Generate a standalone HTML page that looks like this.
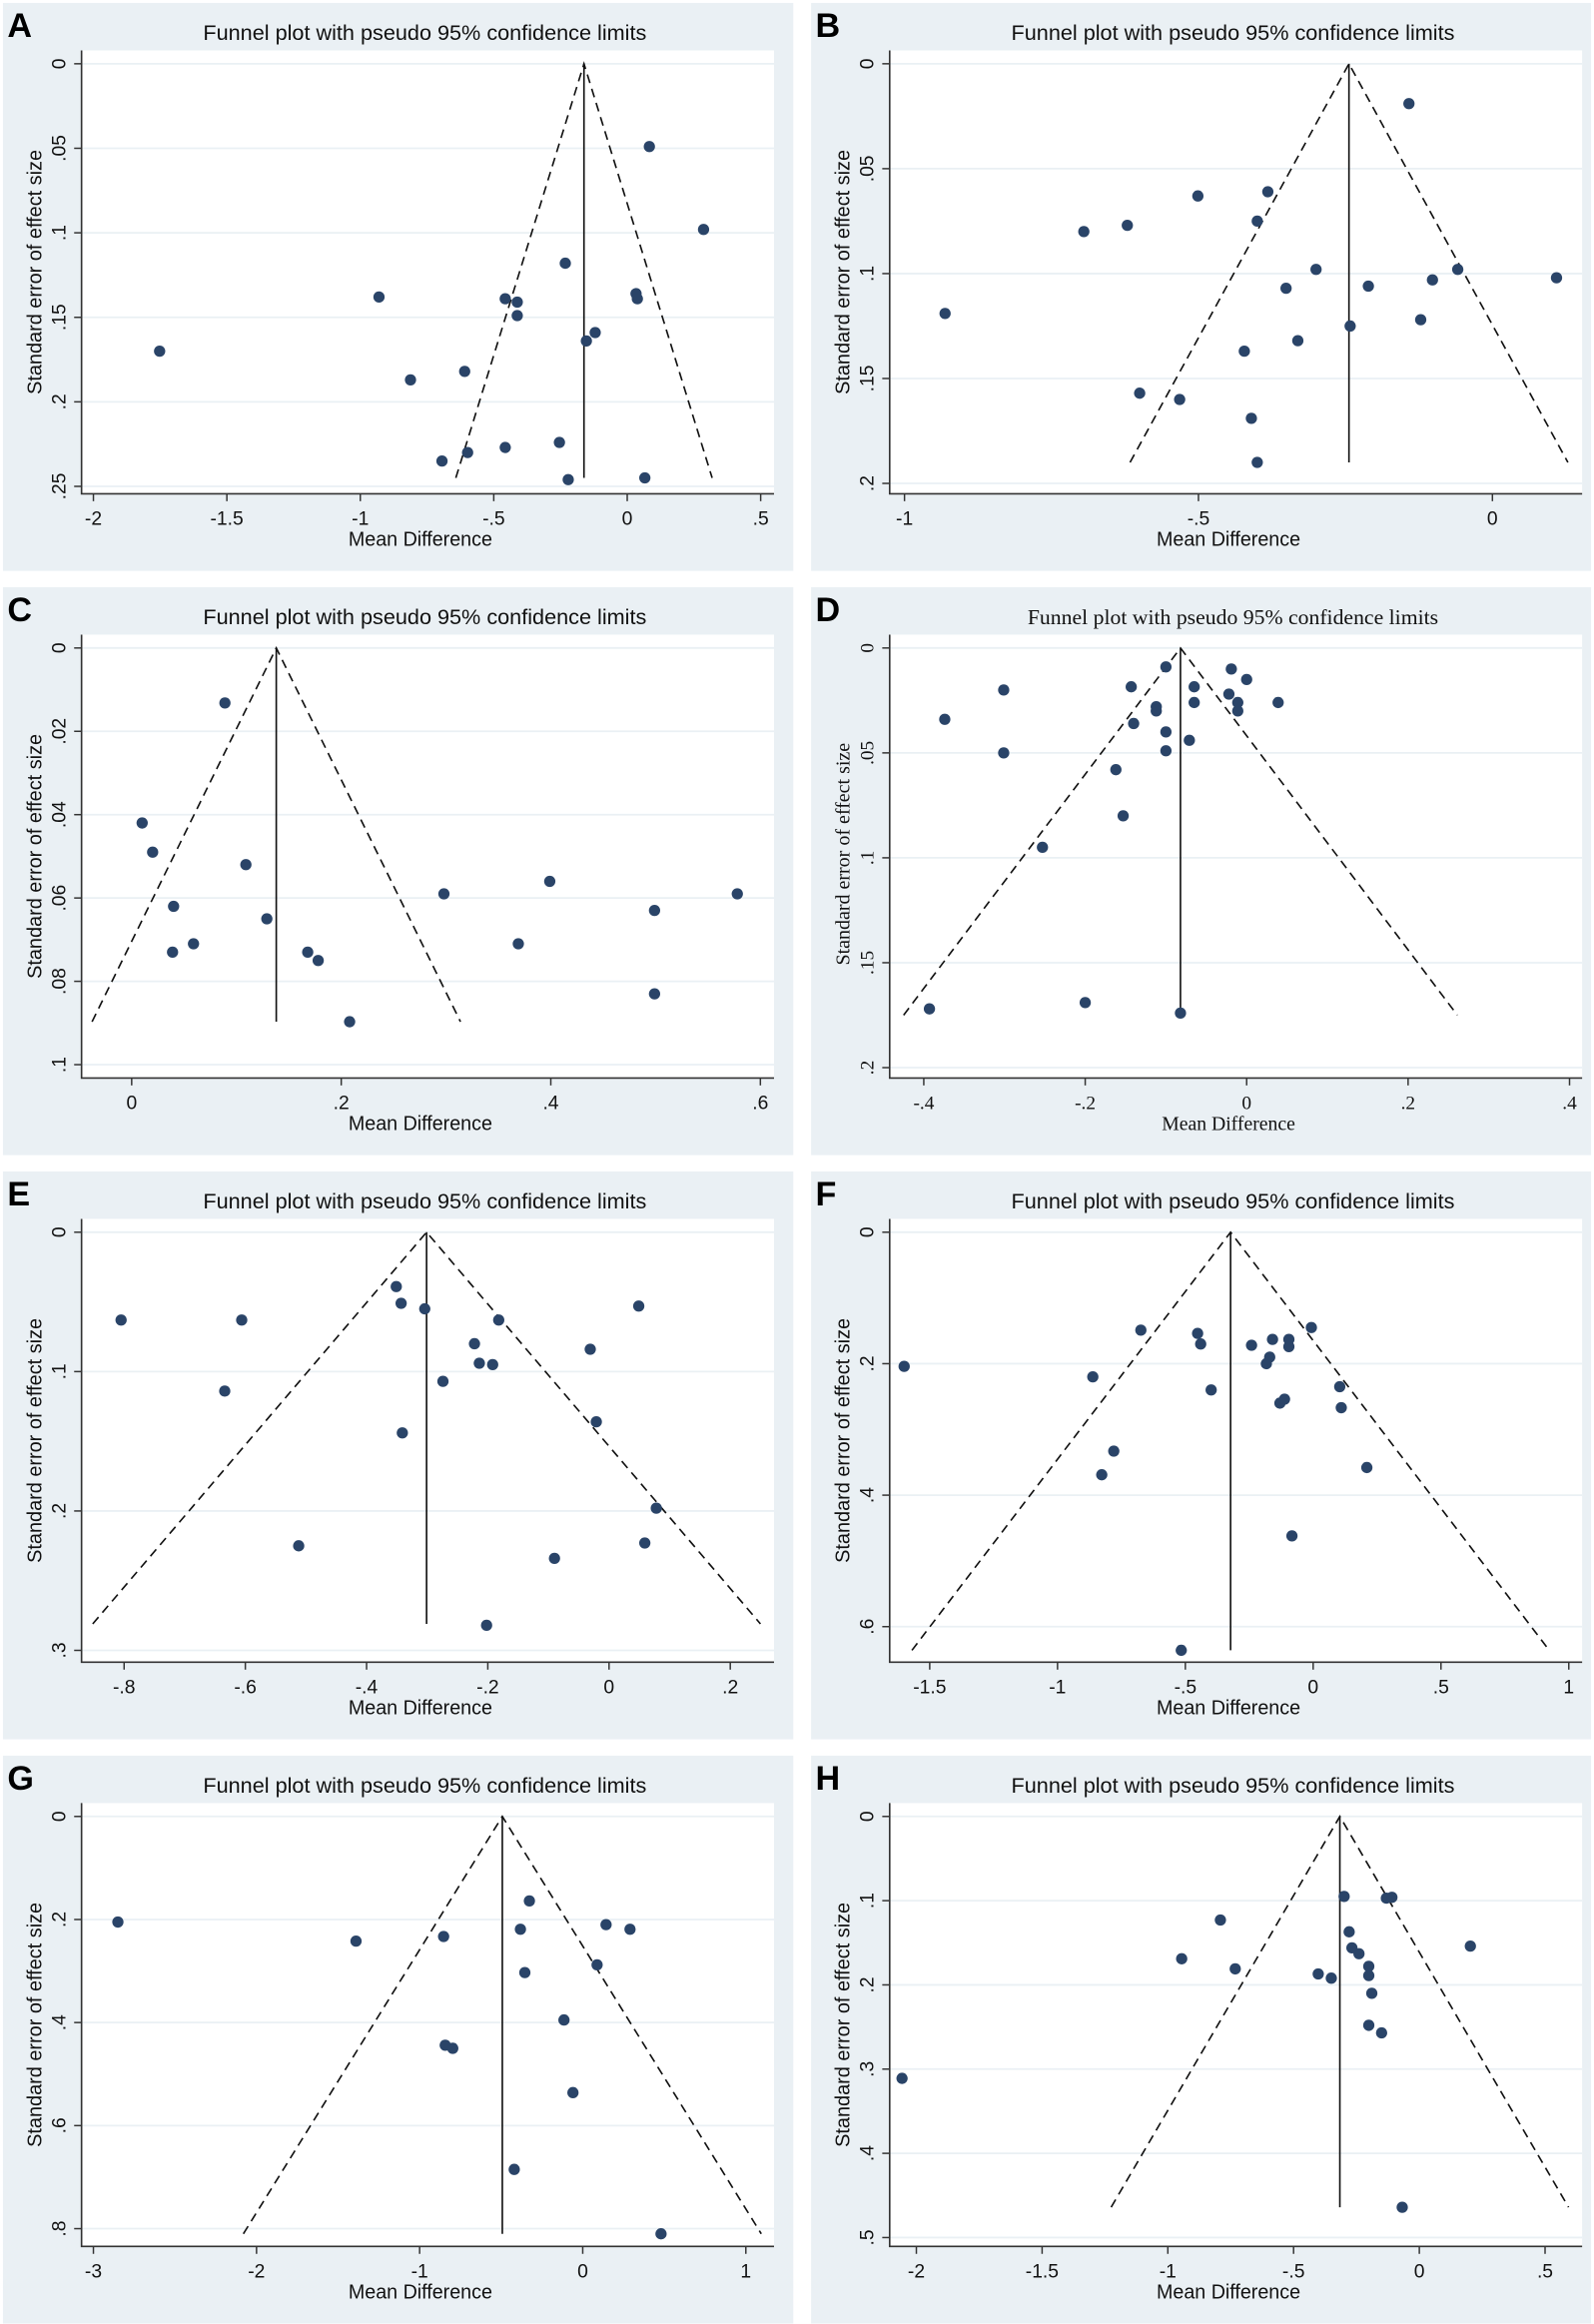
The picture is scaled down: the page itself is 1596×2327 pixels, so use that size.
<!DOCTYPE html>
<html><head><meta charset="utf-8"><style>
html,body{margin:0;padding:0;background:#fff;}
svg{display:block;}
</style></head><body>
<svg id="fig" xmlns="http://www.w3.org/2000/svg" width="1596" height="2327" viewBox="0 0 1075 1567.3" preserveAspectRatio="none"></svg>
<script>
// ---- data arrays (top level) ----
const aX=[0.083,0.286,-0.232,-0.93,-0.457,-0.412,-0.412,0.033,0.038,-0.12,-0.153,-1.752,-0.812,-0.609,-0.694,-0.598,-0.457,-0.254,-0.221,0.066];
const aY=[0.049,0.098,0.118,0.138,0.139,0.141,0.149,0.136,0.139,0.159,0.164,0.170,0.187,0.182,0.235,0.230,0.227,0.224,0.246,0.245];
const bX=[-0.142,-0.501,-0.382,-0.695,-0.621,-0.4,-0.931,-0.3,-0.351,-0.211,-0.102,-0.059,0.109,-0.242,-0.122,-0.331,-0.422,-0.6,-0.532,-0.41,-0.4];
const bY=[0.019,0.063,0.061,0.080,0.077,0.075,0.119,0.098,0.107,0.106,0.103,0.098,0.102,0.125,0.122,0.132,0.137,0.157,0.160,0.169,0.190];
const cX=[0.089,0.01,0.02,0.109,0.04,0.298,0.399,0.499,0.578,0.129,0.039,0.059,0.369,0.168,0.178,0.499,0.208];
const cY=[0.0132,0.042,0.049,0.052,0.062,0.059,0.056,0.063,0.059,0.065,0.073,0.071,0.071,0.073,0.075,0.083,0.0897];
const dX=[-0.374,-0.301,-0.301,-0.1,-0.143,-0.112,-0.112,-0.14,-0.1,-0.1,-0.162,-0.153,-0.253,-0.065,-0.065,-0.071,-0.019,0.0,-0.022,-0.011,-0.011,0.039,-0.393,-0.2,-0.082];
const dY=[0.034,0.020,0.050,0.009,0.0185,0.028,0.030,0.036,0.040,0.049,0.058,0.080,0.095,0.0185,0.026,0.044,0.010,0.015,0.022,0.026,0.030,0.026,0.172,0.169,0.174];
const eX=[-0.805,-0.606,-0.634,-0.351,-0.343,-0.304,-0.182,-0.222,-0.214,-0.192,-0.274,-0.031,0.049,-0.341,-0.021,0.078,-0.512,-0.09,0.059,-0.202];
const eY=[0.063,0.063,0.114,0.039,0.051,0.055,0.063,0.080,0.094,0.095,0.107,0.084,0.053,0.144,0.136,0.198,0.225,0.234,0.223,0.282];
const fX=[-1.6,-0.674,-0.452,-0.44,-0.862,-0.399,-0.241,-0.17,-0.183,-0.159,-0.095,-0.095,-0.007,-0.13,-0.112,0.104,0.11,-0.78,-0.827,0.21,-0.083,-0.516];
const fY=[0.204,0.149,0.154,0.170,0.220,0.240,0.172,0.190,0.200,0.163,0.163,0.174,0.145,0.260,0.254,0.235,0.267,0.333,0.369,0.358,0.462,0.636];
const gX=[-2.85,-1.39,-0.327,-0.382,-0.355,-0.853,0.143,0.29,0.088,-0.115,-0.843,-0.797,-0.06,-0.42,0.48];
const gY=[0.205,0.242,0.164,0.219,0.303,0.233,0.210,0.219,0.288,0.395,0.444,0.450,0.536,0.685,0.81];
const hX=[-2.057,-0.791,-0.945,-0.732,-0.402,-0.35,-0.299,-0.131,-0.109,-0.279,-0.268,-0.24,-0.201,-0.201,-0.189,-0.201,-0.15,0.203,-0.068];
const hY=[0.311,0.123,0.169,0.181,0.187,0.192,0.095,0.097,0.096,0.137,0.156,0.163,0.178,0.189,0.210,0.248,0.257,0.154,0.464];
// tick values & labels
const aXT=[-2,-1.5,-1,-0.5,0,0.5], aXL=['-2','-1.5','-1','-.5','0','.5'], aYT=[0,0.05,0.1,0.15,0.2,0.25], aYL=['0','.05','.1','.15','.2','.25'];
const bXT=[-1,-0.5,0], bXL=['-1','-.5','0'], bYT=[0,0.05,0.1,0.15,0.2], bYL=['0','.05','.1','.15','.2'];
const cXT=[0,0.2,0.4,0.6], cXL=['0','.2','.4','.6'], cYT=[0,0.02,0.04,0.06,0.08,0.1], cYL=['0','.02','.04','.06','.08','.1'];
const dXT=[-0.4,-0.2,0,0.2,0.4], dXL=['-.4','-.2','0','.2','.4'], dYT=[0,0.05,0.1,0.15,0.2], dYL=['0','.05','.1','.15','.2'];
const eXT=[-0.8,-0.6,-0.4,-0.2,0,0.2], eXL=['-.8','-.6','-.4','-.2','0','.2'], eYT=[0,0.1,0.2,0.3], eYL=['0','.1','.2','.3'];
const fXT=[-1.5,-1,-0.5,0,0.5,1], fXL=['-1.5','-1','-.5','0','.5','1'], fYT=[0,0.2,0.4,0.6], fYL=['0','.2','.4','.6'];
const gXT=[-3,-2,-1,0,1], gXL=['-3','-2','-1','0','1'], gYT=[0,0.2,0.4,0.6,0.8], gYL=['0','.2','.4','.6','.8'];
const hXT=[-2,-1.5,-1,-0.5,0,0.5], hXL=['-2','-1.5','-1','-.5','0','.5'], hYT=[0,0.1,0.2,0.3,0.4,0.5], hYL=['0','.1','.2','.3','.4','.5'];
// pooled estimate and max SE per panel
const thetas=[-0.162,-0.244,0.138,-0.082,-0.301,-0.323,-0.493,-0.316];
const seMax=[0.245,0.19,0.0897,0.175,0.281,0.636,0.81,0.464];

const NS='http://www.w3.org/2000/svg';
const svg=document.getElementById('fig');
function mk(tag,attrs,parent){const e=document.createElementNS(NS,tag);for(const k in attrs)e.setAttribute(k,attrs[k]);(parent||svg).appendChild(e);return e;}

const panels=[
 {L:'A',x0:2,y0:2,w:533,X:aX,Y:aY,xt:aXT,xl:aXL,yt:aYT,yl:aYL,xp:[61,511],yp:326,serif:false},
 {L:'B',x0:547,y0:2,w:526,X:bX,Y:bY,xt:bXT,xl:bXL,yt:bYT,yl:bYL,xp:[63,459.5],yp:324,serif:false},
 {L:'C',x0:2,y0:396,w:533,X:cX,Y:cY,xt:cXT,xl:cXL,yt:cYT,yl:cYL,xp:[86.8,510.8],yp:322,serif:false},
 {L:'D',x0:547,y0:396,w:526,X:dX,Y:dY,xt:dXT,xl:dXL,yt:dYT,yl:dYL,xp:[76,511.5],yp:324,serif:true},
 {L:'E',x0:2,y0:790,w:533,X:eX,Y:eY,xt:eXT,xl:eXL,yt:eYT,yl:eYL,xp:[81.7,490.5],yp:323,serif:false},
 {L:'F',x0:547,y0:790,w:526,X:fX,Y:fY,xt:fXT,xl:fXL,yt:fYT,yl:fYL,xp:[80,511],yp:307,serif:false},
 {L:'G',x0:2,y0:1184,w:533,X:gX,Y:gY,xt:gXT,xl:gXL,yt:gYT,yl:gYL,xp:[61,501],yp:319,serif:false},
 {L:'H',x0:547,y0:1184,w:526,X:hX,Y:hY,xt:hXT,xl:hXL,yt:hYT,yl:hYL,xp:[71,495],yp:325,serif:false}
];

panels.forEach((p,i)=>{
 const g=mk('g',{transform:`translate(${p.x0},${p.y0})`});
 
 
 const ff=p.serif?'"Liberation Serif", serif':'"Liberation Sans", sans-serif';
 const bg=mk('rect',{x:0,y:0,width:p.w,height:383,fill:'#eaf0f4'},g);
 
 
 const PL=53,PR=520,PT=32,PB=331;
 const pa=mk('rect',{x:PL,y:PT,width:PR-PL,height:PB-PT,fill:'#fff'},g);
 
 
 const x0v=p.xt[0],x1v=p.xt[p.xt.length-1],ymaxv=p.yt[p.yt.length-1];
 const sx=v=>p.xp[0]+(v-x0v)/(x1v-x0v)*(p.xp[1]-p.xp[0]);
 const sy=v=>41+v/ymaxv*(p.yp-41);
 p.yt.forEach((v,k)=>{
  const gl=mk('line',{x1:PL,x2:PR,y1:sy(v),y2:sy(v),stroke:'#eaf0f4','stroke-width':1.2},g);
  
  
  mk('line',{x1:PL-5,x2:PL,y1:sy(v),y2:sy(v),stroke:'#333','stroke-width':1},g);
  const t=mk('text',{x:0,y:0,transform:`translate(42,${sy(v)}) rotate(-90)`,'text-anchor':'middle','font-size':13,'font-family':ff,fill:'#111'},g);
  t.textContent=p.yl[k];
  
  
 });
 p.xt.forEach((v,k)=>{
  mk('line',{x1:sx(v),x2:sx(v),y1:PB,y2:PB+5,stroke:'#333','stroke-width':1},g);
  const t=mk('text',{x:sx(v),y:352,'text-anchor':'middle','font-size':13,'font-family':ff,fill:'#111'},g);
  t.textContent=p.xl[k];
  
  
 });
 const ax=mk('path',{d:`M${PL},${PT}V${PB}H${PR}`,fill:'none',stroke:'#333','stroke-width':1.1},g);
 
 
 const th=thetas[i],se=seMax[i];
 const fl=mk('path',{d:`M${sx(th-1.96*se)},${sy(se)}L${sx(th)},${sy(0)}L${sx(th+1.96*se)},${sy(se)}`,fill:'none',stroke:'#111','stroke-width':1.1,'stroke-dasharray':'6,4'},g);
 
 
 const vl=mk('line',{x1:sx(th),x2:sx(th),y1:sy(0),y2:sy(se),stroke:'#111','stroke-width':1.1},g);
 
 
 p.X.forEach((xv,k)=>{
  const c=mk('circle',{cx:sx(xv),cy:sy(p.Y[k]),r:3.8,fill:'#2a4468'},g);
  
  
 });
 const tt=mk('text',{x:(PL+PR)/2-2,y:25,'text-anchor':'middle','font-size':p.serif?14:14.5,'font-family':ff,fill:'#111',textLength:p.serif?277:299,lengthAdjust:'spacingAndGlyphs'},g);
 tt.textContent='Funnel plot with pseudo 95% confidence limits';
 
 
 const xt=mk('text',{x:(PL+PR)/2-5,y:366,'text-anchor':'middle','font-size':13.5,'font-family':ff,fill:'#111',textLength:p.serif?90:97,lengthAdjust:'spacingAndGlyphs'},g);
 xt.textContent='Mean Difference';
 
 
 const yy=p.serif?180:(PT+PB)/2;
 const yt=mk('text',{x:0,y:0,transform:`translate(26,${yy}) rotate(-90)`,'text-anchor':'middle','font-size':13.5,'font-family':ff,fill:'#111',textLength:p.serif?150:165,lengthAdjust:'spacingAndGlyphs'},g);
 yt.textContent='Standard error of effect size';
 
 
 const lt=mk('text',{x:3,y:23,'font-size':23,'font-weight':'bold','font-family':'"Liberation Sans", sans-serif',fill:'#000'},g);
 lt.textContent=p.L;
 
 
});
</script>
</body></html>
